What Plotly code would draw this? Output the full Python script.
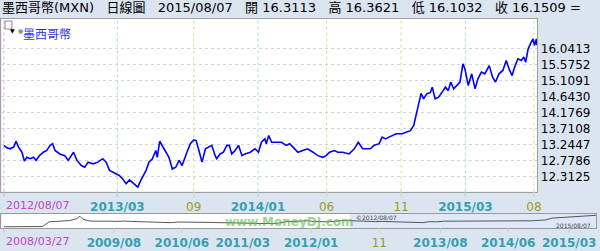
import plotly.graph_objects as go

# ---------------- data ----------------
main_dates = [
    "2012-08-07","2012-08-13","2012-08-20","2012-08-27","2012-09-01","2012-09-06","2012-09-13","2012-09-18",
    "2012-09-23","2012-09-30","2012-10-07","2012-10-12","2012-10-19","2012-10-27","2012-11-03","2012-11-10",
    "2012-11-15","2012-11-20","2012-11-30","2012-12-10","2012-12-17","2012-12-24","2012-12-28","2013-01-04",
    "2013-01-13","2013-01-20","2013-01-27","2013-02-06","2013-02-16","2013-02-26","2013-03-05","2013-03-12",
    "2013-03-22","2013-04-01","2013-04-08","2013-04-15","2013-04-22","2013-04-28","2013-05-09","2013-05-15",
    "2013-05-26","2013-06-01","2013-06-08","2013-06-15","2013-06-18","2013-06-23","2013-06-28","2013-07-05",
    "2013-07-12","2013-07-19","2013-07-26","2013-08-02","2013-08-08","2013-08-18","2013-08-25","2013-09-01",
    "2013-09-06","2013-09-11","2013-09-18","2013-09-25","2013-10-02","2013-10-08","2013-10-15","2013-10-18",
    "2013-10-25","2013-11-01","2013-11-08","2013-11-13","2013-11-18","2013-11-25","2013-12-02","2013-12-09",
    "2013-12-15","2013-12-26","2014-01-05","2014-01-12","2014-01-18","2014-01-25","2014-01-28","2014-02-02",
    "2014-02-08","2014-02-18","2014-02-28","2014-03-10","2014-03-17","2014-03-24","2014-04-03","2014-04-13",
    "2014-04-23","2014-05-04","2014-05-14","2014-05-24","2014-05-31","2014-06-07","2014-06-17","2014-06-24",
    "2014-07-04","2014-07-17","2014-07-28","2014-08-05","2014-08-14","2014-08-20","2014-08-30","2014-09-06",
    "2014-09-17","2014-09-23","2014-09-30","2014-10-07","2014-10-14","2014-10-22","2014-11-03","2014-11-13",
    "2014-11-20","2014-11-27","2014-12-02","2014-12-07","2014-12-12","2014-12-17","2014-12-24","2014-12-31",
    "2015-01-04","2015-01-10","2015-01-17","2015-01-24","2015-01-31","2015-02-06","2015-02-11","2015-02-17",
    "2015-02-23","2015-03-02","2015-03-08","2015-03-12","2015-03-19","2015-03-26","2015-04-02","2015-04-08",
    "2015-04-15","2015-04-22","2015-05-01","2015-05-08","2015-05-14","2015-05-21","2015-05-29","2015-06-05",
    "2015-06-12","2015-06-17","2015-06-22","2015-06-29","2015-07-06","2015-07-11","2015-07-15","2015-07-20",
    "2015-07-26","2015-07-30","2015-08-02","2015-08-06","2015-08-07",
]
main_values = [
    13.22,13.15,13.12,13.17,13.34,13.17,13.02,12.76,
    12.87,12.83,12.87,12.78,12.92,13.02,13.07,13.22,
    13.27,13.07,12.97,12.92,12.78,12.92,13.02,12.78,
    12.63,12.58,12.73,12.68,12.73,12.83,12.73,12.49,
    12.41,12.34,12.24,12.10,12.21,12.14,12.00,12.19,
    12.49,12.73,12.83,13.07,12.87,13.34,13.22,13.02,
    12.87,12.53,12.58,12.78,12.63,13.02,13.27,13.38,
    13.36,13.10,12.73,13.12,13.17,13.22,12.92,12.83,
    12.97,13.02,13.22,13.22,12.97,13.07,13.22,12.92,
    12.97,13.02,13.12,13.02,13.31,13.41,13.27,13.51,
    13.31,13.31,13.31,13.22,13.27,13.17,13.02,13.07,
    13.12,13.02,12.92,12.87,12.92,13.02,13.07,13.02,
    13.02,12.97,13.12,13.31,13.12,13.12,13.12,13.22,
    13.27,13.46,13.41,13.46,13.51,13.56,13.56,13.60,
    13.65,13.80,14.14,14.38,14.74,14.58,14.73,14.76,
    14.92,14.58,14.63,14.77,14.92,14.82,15.07,14.87,
    14.97,15.07,15.60,15.46,14.97,15.31,14.87,15.17,
    15.36,15.31,15.55,15.21,15.07,15.31,15.41,15.70,
    15.41,15.26,15.50,15.75,15.70,15.80,15.65,16.04,
    16.23,16.33,16.14,16.33,16.15,
]

nav_dates = [
    "2008-03-27","2008-04-15","2008-05-15","2008-06-15","2008-07-15","2008-08-15","2008-09-15","2008-10-15",
    "2008-11-15","2008-12-15","2009-01-15","2009-02-15","2009-03-02","2009-03-15","2009-04-15","2009-05-15",
    "2009-06-15","2009-07-15","2009-08-15","2009-09-15","2009-10-15","2009-11-15","2009-12-15","2010-01-15",
    "2010-02-15","2010-03-15","2010-04-15","2010-05-15","2010-06-15","2010-07-15","2010-08-15","2010-09-15",
    "2010-10-15","2010-11-15","2010-12-15","2011-01-15","2011-02-15","2011-03-15","2011-04-15","2011-05-15",
    "2011-06-15","2011-07-15","2011-08-15","2011-09-15","2011-10-15","2011-11-15","2011-12-15","2012-01-15",
    "2012-02-15","2012-03-15","2012-04-15","2012-05-15","2012-06-15","2012-07-15","2012-08-15","2012-09-15",
    "2012-10-15","2012-11-15","2012-12-15","2013-01-15","2013-02-15","2013-03-15","2013-04-15","2013-05-15",
    "2013-06-15","2013-07-15","2013-08-15","2013-09-15","2013-10-15","2013-11-15","2013-12-15","2014-01-15",
    "2014-02-15","2014-03-15","2014-04-15","2014-05-15","2014-06-15","2014-07-15","2014-08-15","2014-09-15",
    "2014-10-15","2014-11-15","2014-12-15","2015-01-15","2015-02-15","2015-03-15","2015-04-15","2015-05-15",
    "2015-06-15","2015-07-15","2015-08-07",
]
nav_values = [
    10.30,10.30,10.20,10.30,10.10,10.20,10.40,12.70,
    12.90,13.00,13.30,14.20,15.40,14.00,13.10,13.00,
    13.10,13.00,12.90,13.10,12.90,12.80,12.70,12.70,
    12.80,12.50,12.30,12.60,12.60,12.70,12.70,12.60,
    12.40,12.30,12.40,12.20,12.10,12.00,11.80,11.70,
    11.90,11.80,12.20,12.80,12.90,13.10,13.20,12.90,
    12.70,12.70,12.90,13.30,13.30,13.10,13.00,12.80,
    12.80,12.90,12.80,12.70,12.70,12.40,12.20,12.30,
    12.80,12.70,13.00,13.00,12.90,13.00,13.00,13.20,
    13.20,13.10,13.10,12.90,13.00,13.00,13.10,13.20,
    13.40,13.60,14.50,14.70,14.90,15.20,15.20,15.30,
    15.50,15.90,16.15,
]

y_tick_values = [12.3125, 12.7786, 13.2447, 13.7108, 14.1769, 14.6430, 15.1091, 15.5752, 16.0413]

main_tick_dates = ["2012-08-07", "2013-03-28", "2013-09-01", "2014-01-11", "2014-06-01",
                   "2014-11-01", "2015-03-13", "2015-08-01"]
main_tick_labels = ["2012/08/07", "2013/03", "09", "2014/01", "06", "11", "2015/03", "08"]
main_tick_kinds = ["start", "year", "month", "year", "month", "month", "year", "month"]

nav_tick_dates = ["2008-03-27", "2009-08-01", "2010-06-01", "2011-03-01", "2012-01-01",
                  "2012-11-01", "2013-08-01", "2014-06-01", "2015-03-01"]
nav_tick_labels = ["2008/03/27", "2009/08", "2010/06", "2011/03", "2012/01", "11",
                   "2013/08", "2014/06", "2015/03"]
nav_tick_kinds = ["start", "year", "year", "year", "year", "month", "year", "year", "year"]

title_text = ("墨西哥幣(MXN)\u00a0\u00a0\u00a0日線圖\u00a0\u00a0\u00a02015/08/07\u00a0\u00a0\u00a0開\u00a016.3113"
              "\u00a0\u00a0\u00a0高\u00a016.3621\u00a0\u00a0\u00a0低\u00a016.1032\u00a0\u00a0\u00a0收\u00a016.1509\u00a0=")
legend_name = "墨西哥幣"

# ---------------- styling ----------------
W, H = 600, 251
FONT = "DejaVu Sans, Noto Sans CJK TC, sans-serif"
BG = "#dbe5f0"
tick_color = {"start": "#c044c0", "year": "#33a0b4", "month": "#999922"}
grid_color = {"start": "#e8a0e8", "year": "#a8d8e4", "month": "#d8d8a0"}
tick_size = {"start": 11, "year": 12, "month": 12}


def px(p):
    return p / W


def py(p):
    return 1 - p / H


def fmt_label(text, kind):
    t = f"<b>{text}</b>" if kind == "year" else text
    return f"<span style='color:{tick_color[kind]};font-size:{tick_size[kind]}px'>{t}</span>"


fig = go.Figure()
fig.add_trace(go.Scatter(x=main_dates, y=main_values, mode="lines",
                         line=dict(color="#0000ff", width=1.6), xaxis="x", yaxis="y",
                         name=legend_name, hoverinfo="skip"))
fig.add_trace(go.Scatter(x=nav_dates, y=nav_values, mode="lines",
                         line=dict(color="#444444", width=0.9), xaxis="x2", yaxis="y2",
                         hoverinfo="skip"))

shapes = []
for d, k in zip(main_tick_dates, main_tick_kinds):
    shapes.append(dict(type="line", xref="x", yref="paper", x0=d, x1=d,
                       y0=py(191.5), y1=py(18.5), line=dict(color=grid_color[k], width=1, dash="dot"),
                       layer="below"))
    shapes.append(dict(type="line", xref="x", yref="paper", x0=d, x1=d,
                       y0=py(191.5), y1=py(197), line=dict(color=grid_color[k], width=1)))
for d, k in zip(nav_tick_dates, nav_tick_kinds):
    shapes.append(dict(type="line", xref="x2", yref="paper", x0=d, x1=d,
                       y0=py(228), y1=py(233), line=dict(color=grid_color[k], width=1)))
# navigator selection window
shapes.append(dict(type="rect", xref="paper", yref="paper", x0=px(352), x1=1.0,
                   y0=py(228), y1=py(214), fillcolor="rgba(175,195,240,0.40)", line=dict(width=0),
                   layer="below"))
# legend toggle box
shapes.append(dict(type="rect", xref="paper", yref="paper", x0=px(5), x1=px(12), y0=py(29), y1=py(21),
                   fillcolor="white", line=dict(color="#888888", width=1)))

annotations = [
    dict(text=title_text, x=px(0), y=py(7.5), xref="paper", yref="paper", xanchor="left",
         yanchor="middle", showarrow=False, font=dict(family=FONT, size=13, color="black")),
    dict(text="▼", x=px(8.5), y=py(25), xref="paper", yref="paper", showarrow=False,
         font=dict(family=FONT, size=6, color="black")),
    dict(text="●", x=px(16.5), y=py(25), xref="paper", yref="paper", showarrow=False,
         font=dict(family=FONT, size=6, color="#8899aa")),
    dict(text=legend_name, x=px(21), y=py(25.5), xref="paper", yref="paper", xanchor="left",
         showarrow=False, font=dict(family=FONT, size=12, color="#3333ee")),
    dict(text="<b>www.MoneyDJ.com</b>", x=px(291), y=py(221.5), xref="paper", yref="paper", showarrow=False,
         font=dict(family=FONT, size=12, color="rgba(100,185,80,0.65)"), xanchor="center",
         yanchor="middle"),
    dict(text="©" + main_tick_labels[0], x=px(356), y=py(217), xref="paper", yref="paper",
         xanchor="left", yanchor="middle", showarrow=False,
         font=dict(family=FONT, size=6, color="#444444")),
    dict(text=main_dates[-1].replace("-", "/"), x=px(597), y=py(225), xref="paper", yref="paper",
         xanchor="right", yanchor="middle", showarrow=False,
         font=dict(family=FONT, size=6, color="#444444")),
    dict(text=fmt_label(main_tick_labels[0], main_tick_kinds[0]), x=main_tick_dates[0], y=py(205),
         xref="x", yref="paper", xanchor="left", yanchor="middle", showarrow=False,
         font=dict(family=FONT, size=11)),
    dict(text=fmt_label(nav_tick_labels[0], nav_tick_kinds[0]), x=nav_tick_dates[0], y=py(241.5),
         xref="x2", yref="paper", xanchor="left", yanchor="middle", showarrow=False,
         font=dict(family=FONT, size=11)),
]

fig.update_layout(
    width=W, height=H, margin=dict(l=0, r=0, t=0, b=0),
    paper_bgcolor=BG, plot_bgcolor="white", showlegend=False,
    font=dict(family=FONT, size=11, color="black"),
    xaxis=dict(type="date", domain=[px(1.5), px(541)], range=["2012-08-02", "2015-08-08"],
               tickvals=main_tick_dates[1:],
               ticktext=[fmt_label(t, k) for t, k in zip(main_tick_labels[1:], main_tick_kinds[1:])],
               ticks="outside", ticklen=5, tickcolor="rgba(0,0,0,0)", showgrid=False, zeroline=False,
               showline=True, mirror=True, linecolor="#a0a0a0", linewidth=1, anchor="y",
               tickangle=0, tickfont=dict(family=FONT, size=11)),
    yaxis=dict(domain=[py(191.5), py(18.5)], range=[11.872, 16.927], side="right",
               tickvals=y_tick_values, tickformat=".4f", ticks="", showgrid=True,
               gridcolor="#d4d4d4", griddash="dot", gridwidth=1, zeroline=False,
               showline=True, mirror=True, linecolor="#a0a0a0", linewidth=1, anchor="x",
               tickfont=dict(family=FONT, size=12, color="black")),
    xaxis2=dict(type="date", domain=[px(1.5), 1.0], range=["2008-03-16", "2015-06-29"],
                tickvals=nav_tick_dates[1:],
                ticktext=[fmt_label(t, k) for t, k in zip(nav_tick_labels[1:], nav_tick_kinds[1:])],
                ticks="outside", ticklen=5, tickcolor="rgba(0,0,0,0)", showgrid=False, zeroline=False,
                showline=True, mirror=True, linecolor="#999999", linewidth=1, anchor="y2",
                tickangle=0, tickfont=dict(family=FONT, size=11)),
    yaxis2=dict(domain=[py(228), py(214)], range=[9.7, 16.5], showticklabels=False, ticks="",
                showgrid=False, zeroline=False, showline=True, mirror=True, linecolor="#999999",
                linewidth=1, anchor="x2"),
    shapes=shapes, annotations=annotations,
)

fig.write_html("out.html")
